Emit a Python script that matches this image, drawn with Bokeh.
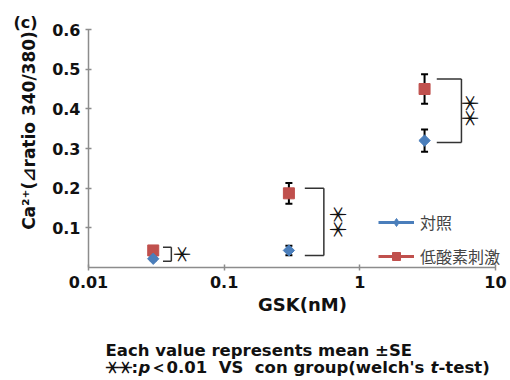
import numpy as np
from bokeh.plotting import figure
from bokeh.models import (ColumnDataSource, Whisker, TeeHead, FixedTicker, Label,
                          Legend, LegendItem, Range1d, NumeralTickFormatter)
from bokeh.core.properties import value
from bokeh.embed import file_html
from bokeh.resources import INLINE

# ---------------- data ----------------
gsk_nM = [0.03, 0.3, 3.0]
control_mean = [0.022, 0.043, 0.320]
control_se = [0.004, 0.012, 0.028]
hypoxia_mean = [0.043, 0.187, 0.450]
hypoxia_se = [0.004, 0.026, 0.037]
sig_top = [0.051, 0.200, 0.475]
sig_bottom = [0.016, 0.030, 0.315]
sig_count = [1, 2, 2]
x_ticks = [0.01, 0.1, 1, 10]
x_tick_labels = ["0.01", "0.1", "1", "10"]
y_ticks = [0.1, 0.2, 0.3, 0.4, 0.5, 0.6]
series_names = ["対照", "低酸素刺激"]
y_title = "Ca²⁺(⊿ratio 340/380)"
x_title = "GSK(nM)"
panel_tag = "(c)"
note_1 = "Each value represents mean ±SE"

BLUE = "#4A7EBB"
RED = "#C0504D"
AXIS = "#8C8C8C"
LATIN = "DejaVu Sans"
CJK = "Noto Sans CJK JP"

# ---------------- layout (pixels on the canvas) ----------------
W, H = 510, 380
AX_LEFT, AX_RIGHT = 88, 495      # canvas x of x = 0.01 and x = 10
AX_TOP, AX_BOTTOM = 29, 267      # canvas y of y = 0.6 and y = 0
dec_px = (AX_RIGHT - AX_LEFT) / 3.0
unit_px = (AX_BOTTOM - AX_TOP) / 0.6
x_start = 0.01 / 10 ** (AX_LEFT / dec_px)
x_end = 10 * 10 ** ((W - AX_RIGHT) / dec_px)
y_start = -(H - AX_BOTTOM) / unit_px
y_end = 0.6 + AX_TOP / unit_px

p = figure(width=W, height=H, x_axis_type="log",
           x_range=Range1d(x_start, x_end), y_range=Range1d(y_start, y_end),
           output_backend="svg", toolbar_location=None,
           min_border=0, min_border_left=0, min_border_right=0,
           min_border_top=0, min_border_bottom=0)
p.outline_line_color = None
p.grid.visible = False

# axes placed inside the frame
p.xaxis.fixed_location = 0
p.xaxis.bounds = (x_ticks[0], x_ticks[-1])
p.yaxis.fixed_location = x_ticks[0]
p.yaxis.bounds = (0, y_ticks[-1])
p.xaxis.ticker = FixedTicker(ticks=x_ticks)
p.xaxis.formatter = NumeralTickFormatter(format="0.[00]")
p.xaxis.major_label_overrides = {t: l for t, l in zip(x_ticks, x_tick_labels)}
p.yaxis.ticker = FixedTicker(ticks=y_ticks)
for ax in (p.xaxis[0], p.yaxis[0]):
    ax.axis_line_color = AXIS
    ax.axis_line_width = 1.5
    ax.major_tick_line_color = AXIS
    ax.major_tick_line_width = 1.5
    ax.major_tick_in = 3
    ax.major_tick_out = 3
    ax.minor_tick_line_color = None
    ax.major_label_text_font = LATIN
    ax.major_label_text_font_style = "bold"
    ax.major_label_text_font_size = "16px"
    ax.major_label_text_color = "#111111"
    ax.major_label_standoff = 5

src = ColumnDataSource(dict(
    x=gsk_nM,
    ctrl=control_mean,
    ctrl_lo=[m - s for m, s in zip(control_mean, control_se)],
    ctrl_hi=[m + s for m, s in zip(control_mean, control_se)],
    hyp=hypoxia_mean,
    hyp_lo=[m - s for m, s in zip(hypoxia_mean, hypoxia_se)],
    hyp_hi=[m + s for m, s in zip(hypoxia_mean, hypoxia_se)],
))

for lo, hi in (("ctrl_lo", "ctrl_hi"), ("hyp_lo", "hyp_hi")):
    w = Whisker(base="x", lower=lo, upper=hi, source=src, level="underlay",
                line_color="black", line_width=2,
                upper_head=TeeHead(size=7, line_width=2, line_color="black"),
                lower_head=TeeHead(size=7, line_width=2, line_color="black"))
    p.add_layout(w)

p.scatter("x", "hyp", source=src, marker="square", size=11,
          fill_color=RED, line_color=RED)
p.scatter("x", "ctrl", source=src, marker="square", angle=np.pi / 4, size=8,
          fill_color=BLUE, line_color=BLUE)

# significance brackets
f0 = [1.18, 1.31, 1.23]
f1 = [1.36, 1.81, 1.87]
fs = [1.61, 2.25, 2.14]
bx0 = [x * f for x, f in zip(gsk_nM, f0)]
bx1 = [x * f for x, f in zip(gsk_nM, f1)]
p.segment(x0=bx0 + bx0 + bx1, y0=sig_top + sig_bottom + sig_top,
          x1=bx1 + bx1 + bx1, y1=sig_top + sig_bottom + sig_bottom,
          line_color="#333333", line_width=1.5)

sx, sy, soff = [], [], []
for x, f, t, b, n in zip(gsk_nM, fs, sig_top, sig_bottom, sig_count):
    mid = (t + b) / 2
    offs = [0] if n == 1 else [-7.5, 7.5]
    for o in offs:
        sx.append(x * f)
        sy.append(mid)
        soff.append(o)
p.text(x=sx, y=sy, y_offset=soff, text=["＊"] * len(sx), angle=np.pi / 2,
       text_align="center", text_baseline="middle",
       text_font=value(CJK), text_font_size="21px", text_color="#111111")

# legend keys
nan3 = np.full(len(gsk_nM), np.nan)
k1l = p.line(x=gsk_nM, y=nan3, line_color=BLUE, line_width=3)
k1m = p.scatter(x=gsk_nM, y=nan3, marker="diamond", size=10, color=BLUE)
k2l = p.line(x=gsk_nM, y=nan3, line_color=RED, line_width=3)
k2m = p.scatter(x=gsk_nM, y=nan3, marker="square", size=10, color=RED)
legend = Legend(items=[LegendItem(label=series_names[0], renderers=[k1l, k1m]),
                       LegendItem(label=series_names[1], renderers=[k2l, k2m])],
                location=(378, 112), orientation="vertical",
                glyph_width=36, glyph_height=20, label_height=20, spacing=10,
                padding=0, margin=0, label_standoff=6,
                label_text_font=CJK, label_text_font_size="16px",
                background_fill_alpha=0, border_line_color=None)
p.add_layout(legend)

def lab(text, x, y, size, font=LATIN, style="bold", align="left", angle=0.0):
    # x, y: canvas pixels from the left / bottom edge
    p.add_layout(Label(x=x, y=y, x_units="screen", y_units="screen", text=text,
                       text_font=font, text_font_style=style, text_font_size=size,
                       text_align=align, text_baseline="middle", angle=angle,
                       text_color="#111111"))

NB = "\u00a0"
lab(y_title, 28, 250, "17px", align="center", angle=np.pi / 2)
lab(panel_tag, 25, 358, "16px", align="center")
lab(x_title, 302, 76, "18px", align="center")
lab(note_1, 105, 30, "16.5px")
# second note line, split for italic p and t
lab("＊", 111, 13, "17px", font=CJK, align="center", angle=np.pi / 2)
lab("＊", 124, 13, "17px", font=CJK, align="center", angle=np.pi / 2)
lab(":", 131, 13, "16.5px")
lab("p", 138, 13, "16.5px", style="bold italic")
lab("＜0.01" + NB * 2 + "VS" + NB * 2 + "con group(welch's", 149, 13, "16.5px")
lab("t", 430, 13, "16.5px", style="bold italic")
lab("-test)", 438, 13, "16.5px")

open("out.html", "w").write(file_html(p, INLINE))
